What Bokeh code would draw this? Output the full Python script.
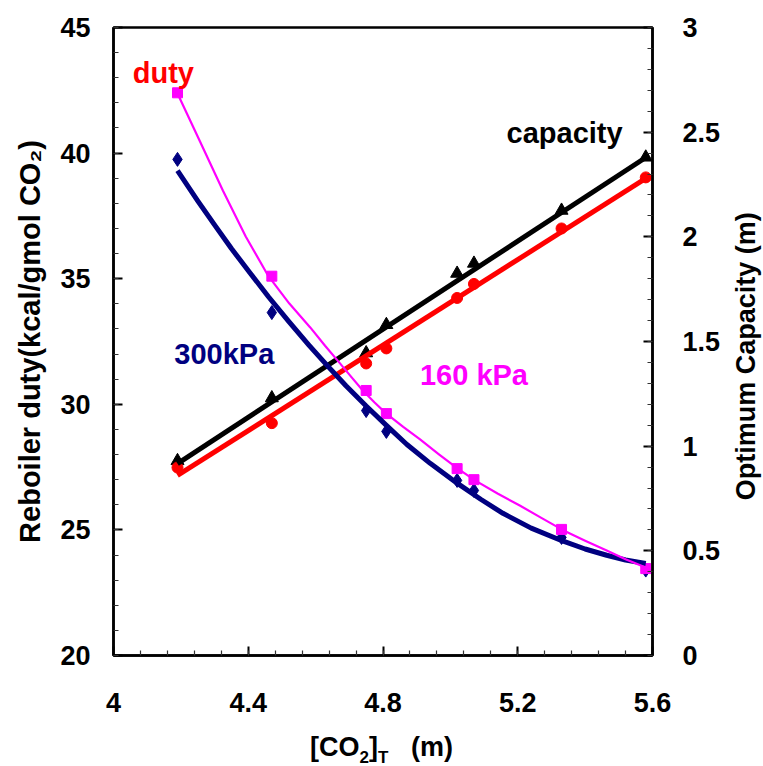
import math
from bokeh.plotting import figure
from bokeh.layouts import column, row
from bokeh.models import (Range1d, LinearAxis, FixedTicker, NumeralTickFormatter, Label, Div)
from bokeh.embed import file_html
from bokeh.resources import INLINE

# ---- data ----
co2 = [4.19, 4.47, 4.75, 4.81, 5.02, 5.07, 5.33, 5.58]
duty_300 = [39.75, 33.65, 29.75, 28.92, 26.97, 26.57, 24.70, 23.40]
duty_160 = [42.40, 35.10, 30.55, 29.63, 27.44, 27.00, 25.02, 23.46]
cap_black = [0.93, 1.23, 1.445, 1.58, 1.825, 1.873, 2.126, 2.38]
cap_red = [0.898, 1.11, 1.395, 1.467, 1.708, 1.775, 2.04, 2.284]

# trend curves
fit300_x = [4.19, 4.25, 4.30, 4.35, 4.406, 4.46, 4.52, 4.58, 4.634, 4.69, 4.75, 4.81,
            4.871, 4.94, 5.02, 5.09, 5.156, 5.24, 5.333, 5.40, 5.464, 5.52, 5.58]
fit300_y = [39.3, 38.1, 37.14, 36.2, 35.22, 34.28, 33.3, 32.36, 31.55, 30.74, 29.93, 29.16,
            28.4, 27.65, 26.86, 26.22, 25.66, 25.07, 24.56, 24.24, 23.99, 23.8, 23.66]
fit160_x = [4.19, 4.2575, 4.325, 4.3925, 4.46, 4.522, 4.584, 4.628, 4.673, 4.707, 4.74,
            4.775, 4.81, 4.86, 4.91, 4.966, 5.022, 5.073, 5.14, 5.206, 5.27, 5.333, 5.40,
            5.464, 5.52, 5.58]
fit160_y = [42.37, 40.44, 38.5, 36.68, 35.1, 34.01, 33.06, 32.33, 31.62, 31.07, 30.55,
            30.07, 29.63, 29.1, 28.6, 28.01, 27.44, 26.97, 26.45, 25.97, 25.48, 25.0, 24.57,
            24.18, 23.83, 23.5]
fitblack_x = [4.19, 5.58]
fitblack_y = [0.917, 2.379]
fitred_x = [4.19, 5.58]
fitred_y = [0.86, 2.279]

x_ticks = [4.0, 4.4, 4.8, 5.2, 5.6]
x_minor = [4.0 + 0.08 * i for i in range(21)]
y_ticks = [20, 25, 30, 35, 40, 45]
y_minor = list(range(20, 46))
y2_ticks = [0, 0.5, 1, 1.5, 2, 2.5, 3]
y2_minor = [i / 10 for i in range(31)]

FONT = "Liberation Sans"
NAVY = "#000080"
MAG = "#FF00FF"
RED = "#FF0000"

p = figure(width=723, height=728, output_backend="svg", toolbar_location=None,
           x_range=Range1d(4.0, 5.6), y_range=Range1d(20, 45),
           min_border_left=113, min_border_right=70, min_border_top=27,
           min_border_bottom=73)
p.extra_y_ranges = {"cap": Range1d(0, 3)}
p.xgrid.visible = False
p.ygrid.visible = False
p.outline_line_color = "black"
p.outline_line_width = 2.5
p.background_fill_color = "white"
p.border_fill_color = "white"

def style_axis(ax, standoff):
    ax.axis_line_width = 2.5
    ax.axis_line_color = "black"
    ax.major_tick_in = 9
    ax.major_tick_out = 0
    ax.minor_tick_in = 5
    ax.minor_tick_out = 0
    ax.major_tick_line_width = 2
    ax.minor_tick_line_width = 1.2
    ax.major_tick_line_color = "black"
    ax.minor_tick_line_color = "#333333"
    ax.major_label_text_font = FONT
    ax.major_label_text_font_style = "bold"
    ax.major_label_text_font_size = "27px"
    ax.major_label_text_color = "black"
    ax.major_label_standoff = standoff
    ax.axis_label_text_font = FONT
    ax.axis_label_text_font_style = "bold"
    ax.axis_label_text_color = "black"

xa = p.xaxis[0]
xa.ticker = FixedTicker(ticks=x_ticks, minor_ticks=x_minor)
xa.formatter = NumeralTickFormatter(format="0.[0]")
style_axis(xa, 37)
xa.axis_label = None

ya = p.yaxis[0]
ya.ticker = FixedTicker(ticks=y_ticks, minor_ticks=y_minor)
style_axis(ya, 23)
ya.axis_label = "Reboiler duty(kcal/gmol CO\u2082)"
ya.axis_label_text_font_size = "29px"
ya.axis_label_standoff = 11

ra = LinearAxis(y_range_name="cap")
ra.ticker = FixedTicker(ticks=y2_ticks, minor_ticks=y2_minor)
ra.formatter = NumeralTickFormatter(format="0.[0]")
style_axis(ra, 30)
ra.axis_label = None
p.add_layout(ra, "right")

# markers
p.scatter(co2, cap_black, y_range_name="cap", marker="triangle", size=13, color="black")
p.scatter(co2, cap_red, y_range_name="cap", marker="circle", size=11, color=RED)
p.scatter(co2, duty_300, marker="diamond", size=14, color=NAVY)
p.scatter(co2, duty_160, marker="square", size=10, color=MAG)

# trend lines
p.line(fitblack_x, fitblack_y, y_range_name="cap", line_width=5, color="black")
p.line(fitred_x, fitred_y, y_range_name="cap", line_width=5, color=RED)
p.line(fit300_x, fit300_y, line_width=5, color=NAVY, line_join="round")
p.line(fit160_x, fit160_y, line_width=2.2, color=MAG, line_join="round")

def lab(x, y, t, c):
    p.add_layout(Label(x=x, y=y, text=t, text_color=c, text_font=FONT,
                       text_font_style="bold", text_font_size="29px",
                       text_align="center", text_baseline="middle"))

lab(4.148, 43.2, "duty", RED)
lab(5.339, 40.8, "capacity", "black")
lab(4.329, 32.0, "300kPa", NAVY)
lab(5.07, 31.15, "160 kPa", MAG)

# right-hand axis title (reads bottom-to-top) in a narrow strip
r = figure(width=40, height=728, output_backend="svg", toolbar_location=None,
           x_range=Range1d(0, 40), y_range=Range1d(0, 3),
           x_axis_type=None, y_axis_type=None,
           min_border_left=0, min_border_right=0, min_border_top=27,
           min_border_bottom=73)
r.outline_line_color = None
r.grid.visible = False
r.background_fill_color = "white"
r.border_fill_color = "white"
r.add_layout(Label(x=22, y=1.43, text="Optimum Capacity (m)", angle=math.pi / 2,
                   text_color="black", text_font=FONT, text_font_style="bold",
                   text_font_size="27px", text_align="center", text_baseline="middle"))

# x-axis title (with subscripts) as a strip under the chart
sub = "font-size:17px;line-height:0;vertical-align:-7px;"
xtitle = Div(
    text=('<div style="width:763px;height:38px;text-align:center;'
          "font-family:'Liberation Sans',Arial,sans-serif;font-weight:bold;"
          'font-size:27px;line-height:38px;color:black;white-space:nowrap;">'
          '[CO<span style="' + sub + '">2</span>]<span style="' + sub + '">T</span>'
          '&nbsp;&nbsp;&nbsp;(m)</div>'),
    width=763, height=38, margin=0)

layout = column(row(p, r, spacing=0), xtitle, spacing=0)
open("out.html", "w").write(file_html(layout, INLINE))
